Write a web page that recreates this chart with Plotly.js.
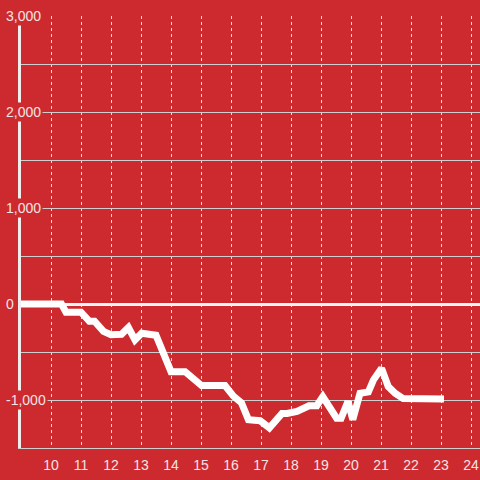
<!DOCTYPE html>
<html>
<head>
<meta charset="utf-8">
<script src="https://cdn.plot.ly/plotly-3.0.1.min.js"></script>
<style>
html,body{margin:0;padding:0;background:#cd2a2f;}
#chart{width:480px;height:480px;}
</style>
</head>
<body>
<div id="chart"></div>
<script>
// Time of day (hours) and cumulative value
const hours = [9.0, 10.35, 10.5, 11.0, 11.28, 11.45, 11.75, 12.0, 12.35, 12.58, 12.8, 13.02, 13.5, 14.0, 14.47, 14.85, 15.02, 15.8, 16.08, 16.35, 16.58, 16.97, 17.28, 17.7, 17.87, 18.2, 18.6, 18.86, 19.06, 19.52, 19.67, 19.9, 20.06, 20.3, 20.58, 20.75, 21.02, 21.24, 21.47, 21.74, 23.1];
const values = [0, 0, -85, -85, -180, -180, -285, -320, -315, -245, -375, -305, -325, -705, -705, -820, -850, -850, -960, -1030, -1205, -1215, -1290, -1140, -1140, -1120, -1060, -1060, -965, -1190, -1190, -1015, -1205, -930, -915, -790, -670, -860, -930, -985, -990];

const xTicks = [10, 11, 12, 13, 14, 15, 16, 17, 18, 19, 20, 21, 22, 23, 24];
const yGrid = [-1500, -1000, -500, 0, 500, 1000, 1500, 2000, 2500, 3000];
const yLabelVals = [3000, 2000, 1000, 0, -1000];
const yLabelText = ["3,000", "2,000", "1,000", "0", "-1,000"];

const bg = '#cd2a2f';
const txt = '#f4e4e4';
const W = 480, ML = 21;

const annotations = yLabelVals.map((v, i) => ({
  xref: 'paper', yref: 'y',
  x: (4 - ML) / (W - ML), y: v,
  xanchor: 'left', yanchor: 'middle',
  text: yLabelText[i], showarrow: false,
  bgcolor: bg, borderpad: 1,
  font: {family: 'Liberation Sans, Arial, sans-serif', size: 14, color: txt}
}));

Plotly.newPlot('chart', [{
  x: hours, y: values, type: 'scatter', mode: 'lines',
  line: {color: '#ffffff', width: 7},
  hoverinfo: 'skip'
}], {
  width: 480, height: 480,
  margin: {l: ML, r: 0, t: 16, b: 32, pad: 0},
  paper_bgcolor: bg, plot_bgcolor: bg,
  showlegend: false,
  font: {family: 'Liberation Sans, Arial, sans-serif', size: 14, color: txt},
  xaxis: {
    range: [9, 24.3], tickvals: xTicks, ticktext: xTicks.map(String),
    showgrid: true, gridcolor: '#e8e0e0', griddash: 'dot', gridwidth: 1,
    zeroline: false, showline: true, linecolor: '#cfcfcf', linewidth: 1,
    ticks: '', ticklabelstandoff: 4,
    tickfont: {size: 14, color: txt}
  },
  yaxis: {
    range: [-1500, 3000], tickvals: yGrid, showticklabels: false,
    showgrid: true, gridcolor: '#cfcfcf', gridwidth: 1,
    zeroline: true, zerolinecolor: '#f8f4f4', zerolinewidth: 3,
    showline: true, linecolor: '#f2eeee', linewidth: 3,
    ticks: ''
  },
  annotations: annotations
}, {staticPlot: true, displayModeBar: false});
</script>
</body>
</html>
